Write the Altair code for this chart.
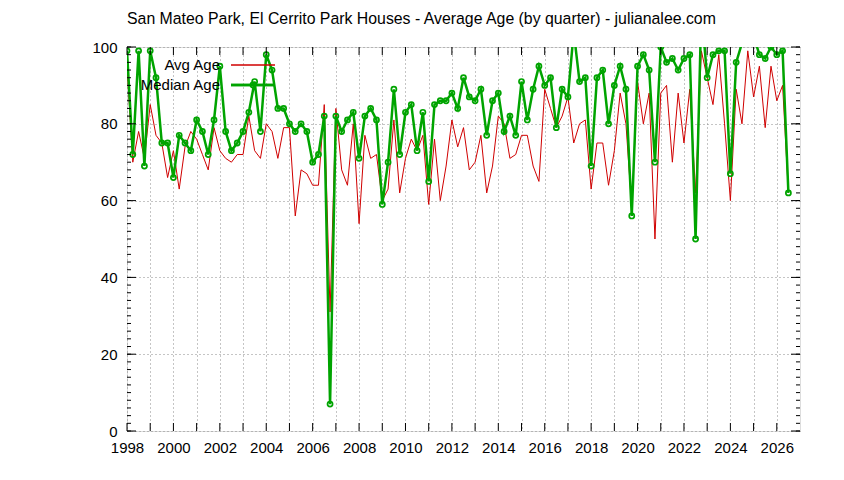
import altair as alt
import pandas as pd

FONT = "Liberation Sans"
FS = 15

start_year = 1998

avg_age = [95, 70, 78, 71, 85, 77, 75, 66, 73, 63,
           74, 78, 76, 72, 68, 79, 73, 71, 70, 72,
           72, 82, 73, 71, 80, 78, 71, 79, 79, 56,
           68, 67, 64, 64, 85, 31, 84, 68, 64, 80,
           54, 77, 71, 72, 60, 63, 81, 62, 71, 76,
           73, 77, 59, 76, 60, 69, 81, 74, 79, 68,
           70, 77, 62, 69, 82, 80, 71, 72, 77, 77,
           69, 65, 89, 84, 79, 82, 87, 75, 80, 81,
           63, 75, 75, 64, 73, 88, 80, 58, 91, 80,
           88, 50, 88, 90, 70, 88, 75, 89, 62, 99,
           92, 85, 98, 80, 60, 89, 80, 99, 87, 95,
           79, 95, 86, 90, 62]

median_age = [99, 72, 99, 69, 99, 92, 75, 75, 66, 77,
              75, 73, 81, 78, 72, 81, 95, 78, 73, 75,
              78, 83, 91, 78, 98, 94, 84, 84, 80, 78,
              80, 78, 70, 72, 82, 7, 82, 78, 81, 83,
              71, 82, 84, 81, 59, 70, 89, 72, 83, 85,
              73, 83, 65, 85, 86, 86, 88, 84, 92, 87,
              86, 89, 77, 86, 88, 78, 82, 77, 91, 81,
              89, 95, 90, 92, 79, 89, 87, 104, 91, 92,
              69, 92, 94, 80, 90, 95, 89, 56, 95, 98,
              94, 70, 100, 96, 97, 94, 97, 98, 50, 110,
              92, 98, 99, 99, 67, 96, 101, 105, 103, 98,
              97, 100, 98, 99, 62]

quarters = [start_year + i * 0.25 for i in range(len(avg_age))]

x_tick_years = list(range(1998, 2027))
y_major_ticks = [0, 20, 40, 60, 80, 100]
y_minor_ticks = list(range(0, 101, 2))

series_names = ["Avg Age", "Median Age"]
title_text = ["San Mateo Park, El Cerrito Park Houses - Average Age (by quarter) - julianalee.com"]

RED = "#d00000"
GREEN = "#00a400"
W, H = 673, 384

df = pd.DataFrame({"quarter": quarters, "avg": avg_age, "median": median_age})
xt = pd.DataFrame({"year": x_tick_years})
ytmaj = pd.DataFrame({"v": y_major_ticks})
ytmin = pd.DataFrame({"v": y_minor_ticks})

xs = alt.Scale(domain=[1998, 2027], nice=False, zero=False)
ys = alt.Scale(domain=[0, 100], nice=False, zero=True)

xaxis = alt.Axis(values=x_tick_years, format="d",
                 labelExpr="datum.value % 2 == 0 ? datum.label : ''",
                 grid=True, gridDash=[1, 3], gridColor="#8a8a8a", gridOpacity=1,
                 ticks=False, domain=False, labelFlush=False, labelOverlap=False,
                 labelPadding=9, labelFontSize=FS, labelFont=FONT,
                 labelColor="black", title=None)
yaxis = alt.Axis(values=y_major_ticks, grid=True, gridDash=[1, 3],
                 gridColor="#8a8a8a", gridOpacity=1, ticks=False, domain=False,
                 labelFlush=False, labelOverlap=False, labelPadding=10,
                 labelFontSize=FS, labelFont=FONT, labelColor="black", title=None)

X = lambda f: alt.X(f, scale=xs, axis=xaxis)
Y = lambda f: alt.Y(f, scale=ys, axis=yaxis)

red_line = alt.Chart(df).mark_line(color=RED, strokeWidth=1, clip=True).encode(
    x=X("quarter:Q"), y=Y("avg:Q"))
green_line = alt.Chart(df).mark_line(color=GREEN, strokeWidth=2.5, clip=True).encode(
    x=X("quarter:Q"), y=Y("median:Q"))
green_pts = alt.Chart(df).mark_point(shape="circle", filled=False, color=GREEN,
                                     size=26, strokeWidth=1.7, opacity=1, clip=True).encode(
    x=X("quarter:Q"), y=Y("median:Q"))

# inward ticks (gnuplot style) on all four sides
xt_bottom = alt.Chart(xt).mark_rule(color="black", strokeWidth=1).encode(
    x=X("year:Q"), y=alt.value(H), y2=alt.value(H - 8))
xt_top = alt.Chart(xt).mark_rule(color="black", strokeWidth=1).encode(
    x=X("year:Q"), y=alt.value(0), y2=alt.value(8))
yt_major_l = alt.Chart(ytmaj).mark_rule(color="black", strokeWidth=1).encode(
    y=Y("v:Q"), x=alt.value(0), x2=alt.value(9))
yt_major_r = alt.Chart(ytmaj).mark_rule(color="black", strokeWidth=1).encode(
    y=Y("v:Q"), x=alt.value(W), x2=alt.value(W - 9))
yt_minor_l = alt.Chart(ytmin).mark_rule(color="black", strokeWidth=1).encode(
    y=Y("v:Q"), x=alt.value(0), x2=alt.value(4))
yt_minor_r = alt.Chart(ytmin).mark_rule(color="black", strokeWidth=1).encode(
    y=Y("v:Q"), x=alt.value(W), x2=alt.value(W - 4))

# title as text above the plot
title_df = pd.DataFrame({"t": title_text})
title_mark = alt.Chart(title_df).mark_text(
    align="left", baseline="alphabetic", fontSize=15.85, font=FONT, color="black").encode(
    text="t:N", x=alt.value(0), y=alt.value(-23))

# gnuplot-style key
leg_df = pd.DataFrame({"name": series_names})
key_text_avg = alt.Chart(leg_df).transform_filter(alt.datum.name == series_names[0]).mark_text(
    align="right", baseline="middle", fontSize=FS, font=FONT, color="black").encode(
    text="name:N", x=alt.value(93), y=alt.value(18))
key_text_med = alt.Chart(leg_df).transform_filter(alt.datum.name == series_names[1]).mark_text(
    align="right", baseline="middle", fontSize=FS, font=FONT, color="black").encode(
    text="name:N", x=alt.value(93), y=alt.value(38))
key_line_avg = alt.Chart(leg_df).mark_rule(color=RED, strokeWidth=1).encode(
    x=alt.value(104), x2=alt.value(148), y=alt.value(18))
key_line_med = alt.Chart(leg_df).mark_rule(color=GREEN, strokeWidth=2.5).encode(
    x=alt.value(104), x2=alt.value(148), y=alt.value(38))
key_pt_med = alt.Chart(leg_df).transform_filter(alt.datum.name == series_names[1]).mark_point(
    shape="circle", filled=False, color=GREEN, size=26, strokeWidth=1.7, opacity=1).encode(
    x=alt.value(126), y=alt.value(38))

chart = alt.layer(
    red_line, green_line, green_pts,
    xt_bottom, xt_top, yt_major_l, yt_major_r, yt_minor_l, yt_minor_r,
    title_mark,
    key_text_avg, key_text_med, key_line_avg, key_line_med, key_pt_med,
).properties(
    width=W, height=H,
    padding={"left": 119, "top": 39, "right": 36, "bottom": 41},
    autosize="none",
).configure_view(stroke="black", strokeWidth=1).configure(background="white")

chart.save("out.html", embed_options={"renderer": "svg", "actions": False})
